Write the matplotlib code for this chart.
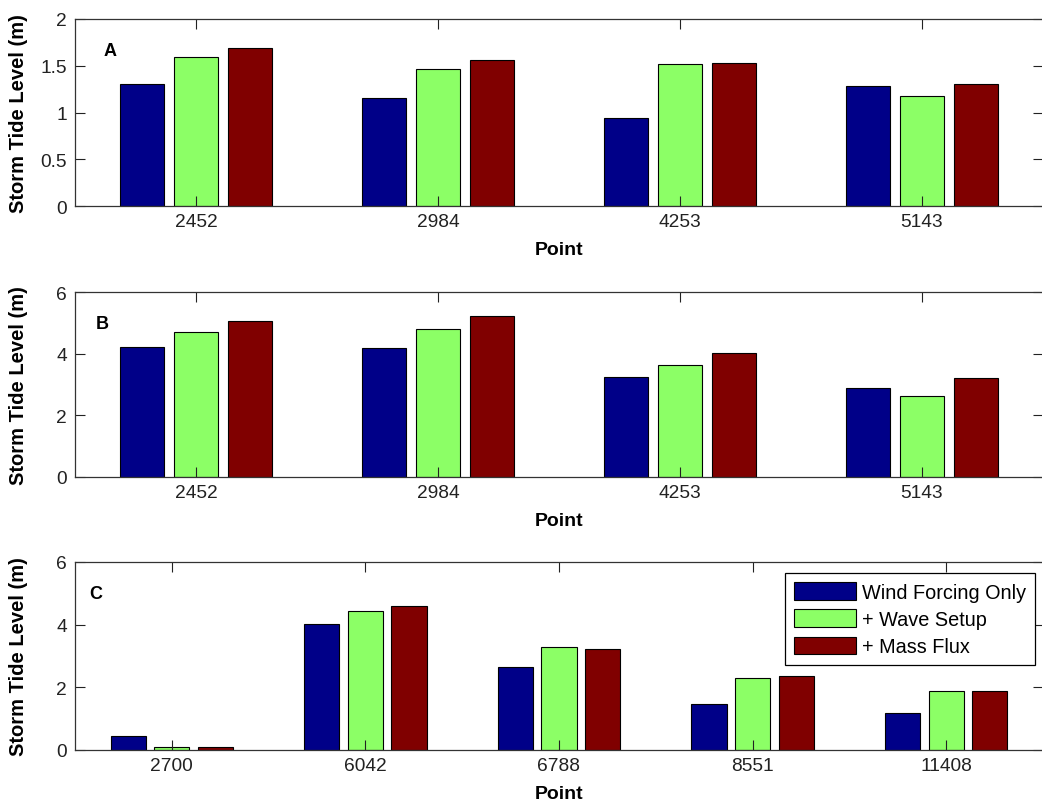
import numpy as np
import matplotlib
matplotlib.use('Agg')
import matplotlib.pyplot as plt
from matplotlib.ticker import FormatStrFormatter

plt.rcParams['font.family'] = ['Liberation Sans', 'DejaVu Sans']

# data
points_ab = ['2452', '2984', '4253', '5143']
points_c = ['2700', '6042', '6788', '8551', '11408']

wind_a = [1.31, 1.15, 0.94, 1.28]
wave_a = [1.59, 1.46, 1.52, 1.18]
mass_a = [1.69, 1.56, 1.53, 1.31]

wind_b = [4.21, 4.18, 3.23, 2.89]
wave_b = [4.71, 4.81, 3.62, 2.63]
mass_b = [5.05, 5.21, 4.02, 3.22]

wind_c = [0.45, 4.03, 2.66, 1.48, 1.19]
wave_c = [0.11, 4.43, 3.29, 2.31, 1.87]
mass_c = [0.11, 4.59, 3.21, 2.36, 1.87]

series_names = ['Wind Forcing Only', '+ Wave Setup', '+ Mass Flux']
colors = ['#000088', '#8cff66', '#800000']

panels = [
    ('A', points_ab, [wind_a, wave_a, mass_a], 2, [0, 0.5, 1, 1.5, 2]),
    ('B', points_ab, [wind_b, wave_b, mass_b], 6, [0, 2, 4, 6]),
    ('C', points_c, [wind_c, wave_c, mass_c], 6, [0, 2, 4, 6]),
]

# axes boxes in pixels (left, top, right, bottom)
W, H = 1042, 804
boxes = [(75, 20, 1043, 207), (75, 293, 1043, 478), (75, 563, 1043, 751)]
letter_x = [0.029, 0.021, 0.015]

fig = plt.figure(figsize=(W / 100, H / 100), dpi=100)

axs = []
for k, (letter, pts, vals, ymax, yt) in enumerate(panels):
    l, t, r, b = boxes[k]
    ax = fig.add_axes([l / W, (H - b) / H, (r - l) / W, (b - t) / H])
    axs.append(ax)
    x = np.arange(1, len(pts) + 1)
    offs = [-0.225, 0, 0.225]
    for j in range(3):
        ax.bar(x + offs[j], vals[j], width=0.182, color=colors[j],
               edgecolor='black', linewidth=0.8, label=series_names[j])
    ax.set_xlim(0.5, len(pts) + 0.5)
    ax.set_ylim(0, ymax)
    ax.set_xticks(x)
    ax.set_xticklabels(pts)
    ax.set_yticks(yt)
    ax.yaxis.set_major_formatter(FormatStrFormatter('%g'))
    ax.tick_params(direction='in', length=7, width=0.8, top=True, right=True,
                   labelsize=13.8, colors='#222222', pad=5)
    ax.tick_params(axis='y', pad=6)
    for s in ax.spines.values():
        s.set_linewidth(0.9)
        s.set_color('#333333')
    ax.set_xlabel('Point', fontsize=14, fontweight='bold')
    ax.set_ylabel('Storm Tide Level (m)', fontsize=14.5, fontweight='bold')
    ax.xaxis.set_label_coords(0.5, -35 / (b - t))
    ax.yaxis.set_label_coords(-47 / (r - l), 0.5)
    ax.text(letter_x[k], 0.83, letter, transform=ax.transAxes, fontsize=13,
            fontweight='bold', va='center', ha='left')

leg = axs[2].legend(loc='upper right', bbox_to_anchor=(0.9917, 0.941),
                    borderaxespad=0, fontsize=14.3, handlelength=3.1,
                    handleheight=1.0, handletextpad=0.3, labelspacing=0.38,
                    borderpad=0.45, fancybox=False, framealpha=1)
leg.get_frame().set_edgecolor('black')
leg.get_frame().set_linewidth(0.9)

plt.savefig('out.png', dpi=100)
